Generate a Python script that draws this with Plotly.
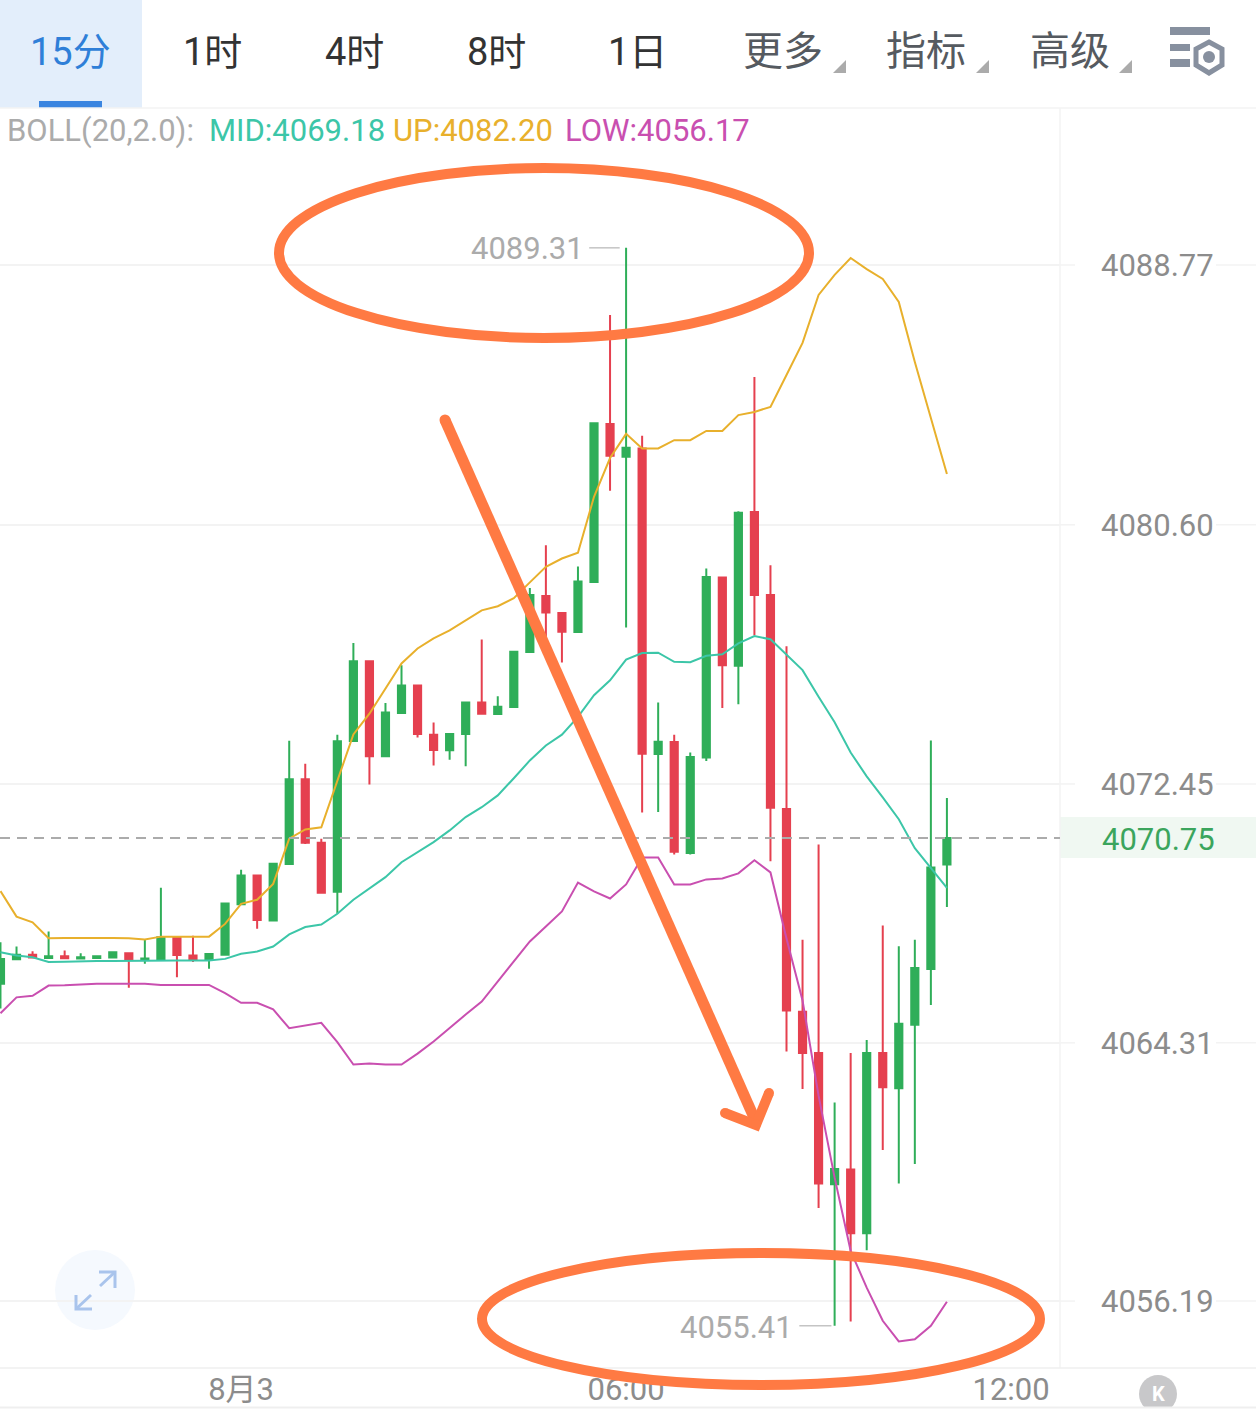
import plotly.graph_objects as go

FONT = "Roboto, 'Noto Sans CJK SC', sans-serif"
W, H = 1256, 1420

open_ = [4066.17,4066.94,4067.08,4066.98,4067.03,4066.96,4066.98,4066.99,4067.13,4066.92,
         4066.93,4067.61,4067.06,4066.94,4067.08,4068.67,4069.57,4068.16,4069.93,4072.60,
         4070.60,4069.06,4073.80,4076.31,4073.32,4074.68,4075.55,4074.00,4073.51,4074.02,
         4075.01,4074.65,4074.87,4076.60,4078.36,4077.83,4077.23,4078.80,4083.77,4082.74,
         4083.00,4073.39,4073.77,4070.28,4073.28,4078.94,4076.17,4081.00,4078.39,4071.66,
         4065.29,4063.99,4059.86,4060.33,4058.32,4063.99,4062.88,4064.88,4066.63,4069.92]
high = [4067.47,4067.34,4067.19,4067.81,4067.21,4067.13,4067.03,4067.16,4067.13,4067.56,
        4069.19,4067.63,4067.68,4067.10,4068.69,4069.75,4069.57,4069.94,4073.81,4073.09,
        4070.73,4074.00,4076.88,4076.31,4075.00,4076.18,4075.55,4074.38,4074.02,4075.01,
        4076.99,4075.21,4076.61,4078.61,4079.96,4077.83,4079.29,4083.79,4087.20,4089.31,
        4083.40,4075.01,4074.00,4073.44,4079.23,4078.94,4081.03,4085.25,4079.33,4076.78,
        4067.55,4070.55,4062.43,4063.99,4064.40,4068.00,4067.35,4067.55,4073.82,4072.01]
low = [4065.39,4066.94,4066.99,4066.98,4066.97,4066.96,4066.98,4066.99,4066.04,4066.80,
       4066.93,4066.37,4066.85,4066.64,4067.08,4068.67,4067.90,4068.16,4069.93,4070.56,
       4069.03,4068.37,4073.80,4072.43,4073.32,4074.68,4073.91,4073.03,4073.21,4073.01,
       4074.66,4074.65,4074.87,4076.60,4076.59,4076.27,4077.23,4078.80,4081.67,4077.37,
       4071.55,4071.57,4070.23,4070.23,4073.17,4074.84,4074.96,4077.13,4070.02,4064.04,
       4062.86,4059.12,4055.41,4055.55,4057.79,4060.94,4059.89,4060.50,4065.50,4068.58]
close = [4066.95,4067.08,4066.99,4067.03,4066.97,4067.00,4067.03,4067.16,4066.92,4066.96,
         4067.63,4067.07,4066.95,4067.10,4068.69,4069.57,4068.17,4069.94,4072.60,4070.60,
         4069.03,4073.79,4076.31,4073.32,4074.70,4075.55,4074.02,4073.52,4074.02,4075.01,
         4074.66,4074.88,4076.61,4078.39,4077.84,4077.24,4078.82,4083.79,4082.77,4083.02,
         4073.40,4073.78,4070.32,4073.30,4078.96,4076.18,4080.98,4078.39,4071.70,4065.33,
         4063.99,4059.89,4060.34,4058.32,4063.99,4062.91,4064.91,4066.66,4069.82,4070.75]

boll_up = [4069.08,4068.28,4068.10,4067.60,4067.61,4067.62,4067.61,4067.61,4067.60,4067.56,
           4067.65,4067.65,4067.65,4067.65,4068.05,4068.68,4068.81,4069.31,4070.73,4071.02,
           4071.09,4072.56,4074.01,4074.66,4075.43,4076.24,4076.71,4077.03,4077.28,4077.60,
           4077.91,4078.04,4078.29,4078.79,4079.28,4079.54,4079.72,4081.48,4082.70,4083.46,
           4083.00,4083.00,4083.26,4083.26,4083.55,4083.55,4084.05,4084.15,4084.31,4085.31,
           4086.32,4087.83,4088.46,4088.99,4088.64,4088.33,4087.61,4085.72,4083.96,4082.20]
boll_mid = [4067.16,4067.06,4067.00,4066.85,4066.86,4066.88,4066.88,4066.88,4066.89,4066.90,
            4066.90,4066.90,4066.90,4066.90,4066.95,4067.11,4067.18,4067.34,4067.72,4067.95,
            4068.03,4068.37,4068.81,4069.16,4069.52,4069.99,4070.31,4070.62,4070.99,4071.41,
            4071.72,4072.09,4072.63,4073.19,4073.66,4074.00,4074.56,4075.24,4075.71,4076.36,
            4076.57,4076.58,4076.29,4076.28,4076.48,4076.53,4076.87,4077.10,4077.00,4076.50,
            4076.03,4075.19,4074.39,4073.44,4072.69,4072.03,4071.34,4070.43,4069.82,4069.18]
boll_low = [4065.24,4065.74,4065.79,4066.11,4066.12,4066.15,4066.17,4066.17,4066.17,4066.17,
            4066.13,4066.13,4066.13,4066.13,4065.87,4065.57,4065.57,4065.36,4064.77,4064.85,
            4064.94,4064.33,4063.63,4063.66,4063.63,4063.63,4063.97,4064.35,4064.79,4065.20,
            4065.61,4066.24,4066.90,4067.50,4067.97,4068.44,4069.35,4069.07,4068.85,4069.29,
            4070.14,4070.14,4069.29,4069.29,4069.45,4069.48,4069.64,4070.05,4069.67,4067.59,
            4065.64,4062.65,4060.07,4057.77,4056.61,4055.57,4054.92,4054.99,4055.41,4056.17]

price_ticks = [4088.77, 4080.60, 4072.45, 4064.31, 4056.19]
time_tick_index = [15, 39, 63]
time_tick_labels = ["8月3", "06:00", "12:00"]
tabs = ["15分", "1时", "4时", "8时", "1日", "更多", "指标", "高级"]
last_price = 4070.75
max_price = 4089.31
min_price = 4055.41

assert all(len(a) == 60 for a in (open_, high, low, close, boll_up, boll_mid, boll_low))
idx = list(range(60))

GREEN, RED = "#2FAE59", "#E5404F"
TEAL, YELLOW, MAGENTA = "#3CC6A8", "#E8B02C", "#C94FB0"
ORANGE = "#FF7A43"
GRID = "#F3F3F3"
PLOT_R = 1060


def px(x):
    return x / W


def py(y):
    return 1 - y / H


def pline(x0, y0, x1, y1, color, width, **kw):
    return dict(type="line", xref="paper", yref="paper", x0=px(x0), y0=py(y0), x1=px(x1), y1=py(y1),
                line=dict(color=color, width=width), **kw)


def prect(x0, y0, x1, y1, color, layer="below"):
    return dict(type="rect", xref="paper", yref="paper", x0=px(x0), y0=py(y0), x1=px(x1), y1=py(y1),
                fillcolor=color, line=dict(width=0), layer=layer)


def pellipse(cx, cy, rx, ry, fill=None, line=None, width=0, layer="above"):
    return dict(type="circle", xref="paper", yref="paper", x0=px(cx - rx), y0=py(cy - ry),
                x1=px(cx + rx), y1=py(cy + ry), fillcolor=fill or "rgba(0,0,0,0)",
                line=dict(color=line or "rgba(0,0,0,0)", width=width), layer=layer)


def ppath(points, color, width=0, fill=None, closed=False, layer="above"):
    d = "M " + " L ".join(f"{px(x):.5f},{py(y):.5f}" for x, y in points) + (" Z" if closed else "")
    return dict(type="path", xref="paper", yref="paper", path=d, fillcolor=fill or "rgba(0,0,0,0)",
                line=dict(color=color, width=width), layer=layer)


def ptext(x, y, text, color, size=31, anchor="center"):
    return dict(xref="paper", yref="paper", x=px(x), y=py(y), text=text, showarrow=False,
                xanchor=anchor, yanchor="middle", font=dict(family=FONT, size=size, color=color))


fig = go.Figure()
fig.add_trace(go.Candlestick(
    x=idx, open=open_, high=high, low=low, close=close,
    increasing=dict(line=dict(color=GREEN, width=2), fillcolor=GREEN),
    decreasing=dict(line=dict(color=RED, width=2), fillcolor=RED),
    whiskerwidth=0, hoverinfo="skip"))
for series, color, width in ((boll_up, YELLOW, 2), (boll_mid, TEAL, 2), (boll_low, MAGENTA, 2)):
    fig.add_trace(go.Scatter(x=idx, y=series, mode="lines", line=dict(color=color, width=width),
                             hoverinfo="skip"))

shapes = [
    prect(0, 0, 142, 108, "#E3EEFB"),
    prect(39, 101, 102, 108, "#3A85E0"),
    prect(PLOT_R, 817, W, 858, "#F0F8F2"),
    pline(0, 108, W, 108, GRID, 1.5, layer="below"),
    pline(PLOT_R, 108, PLOT_R, 1368, GRID, 1.5, layer="below"),
    pline(0, 1368, W, 1368, "#EFEFEF", 1.5, layer="below"),
    pellipse(95, 1290, 40, 40, fill="#F5F9FE", layer="below"),
]
for tick in price_ticks:
    for a, b in ((PLOT_R, 1075), (1216, W)):
        shapes.append(dict(type="line", xref="paper", yref="y", x0=px(a), x1=px(b), y0=tick, y1=tick,
                           line=dict(color=GRID, width=1.5), layer="below"))
shapes.append(dict(type="line", xref="paper", yref="y", x0=0, x1=px(PLOT_R), y0=last_price, y1=last_price,
                   line=dict(color="#ABABAB", width=2, dash="10px,7px"), layer="above"))
shapes.append(dict(type="line", xref="x", yref="y", x0=36.7, x1=38.6, y0=max_price, y1=max_price,
                   line=dict(color="#C4C4C4", width=1.5)))
shapes.append(dict(type="line", xref="x", yref="y", x0=49.8, x1=51.8, y0=min_price, y1=min_price,
                   line=dict(color="#C4C4C4", width=1.5)))

# toolbar glyphs
for tx in (846, 989, 1132):
    shapes.append(ppath([(tx, 60), (tx, 73), (tx - 13, 73)], "#ABABAB", fill="#ABABAB", closed=True))
ICON = "#87909F"
shapes += [prect(1170, 27, 1210, 35, ICON, "above"), prect(1170, 44, 1190, 51, ICON, "above"),
           prect(1170, 59, 1190, 67, ICON, "above")]
shapes.append(ppath([(1209, 42), (1222, 49), (1222, 65), (1209, 73), (1196, 65), (1196, 49)],
                    ICON, width=5, closed=True))
shapes.append(pellipse(1209, 57, 6, 6, fill=ICON))

# expand button
EXP = "#A9C4EC"
shapes += [ppath([(99, 1272), (115, 1272), (115, 1288)], EXP, width=3),
           pline(115, 1272, 100, 1286, EXP, 3),
           ppath([(76, 1295), (76, 1309), (92, 1309)], EXP, width=3),
           pline(76, 1309, 91, 1295, EXP, 3)]

# K button and bottom strip
shapes.append(pellipse(1158, 1394, 19, 19, fill="#C8C8CA"))
shapes.append(prect(0, 1408, W, H, "#FFFFFF", "above"))
shapes.append(pline(0, 1407.5, W, 1407.5, "#EFEFEF", 2))

# hand-drawn orange marks
shapes += [
    pellipse(544, 253, 265, 85, line=ORANGE, width=10),
    pellipse(761, 1319, 279, 66, line=ORANGE, width=10),
    ppath([(445, 420), (756, 1122)], ORANGE, width=11),
    ppath([(725, 1113), (756, 1125), (769, 1093)], ORANGE, width=10),
    pellipse(445, 420, 5.5, 5.5, fill=ORANGE),
    pellipse(725, 1113, 5, 5, fill=ORANGE),
    pellipse(769, 1093, 5, 5, fill=ORANGE),
    pellipse(756, 1124, 5, 5, fill=ORANGE),
]

tab_x = [70, 212, 354, 496, 637, 783, 926, 1070]
tab_sizes = [38, 38, 38, 38, 38, 40, 40, 40]
tab_colors = ["#2F7FD8"] + ["#333333"] * 4 + ["#555A60"] * 3
annotations = [ptext(x, 52, t, c, size=s) for x, t, c, s in zip(tab_x, tabs, tab_colors, tab_sizes)]
annotations += [
    ptext(5, 131, "BOLL(20,2.0):", "#ABABAB", anchor="left"),
    ptext(207, 131, "MID:4069.18", TEAL, anchor="left"),
    ptext(391, 131, "UP:4082.20", YELLOW, anchor="left"),
    ptext(563, 131, "LOW:4056.17", MAGENTA, anchor="left"),
    ptext(1158, 839, f"{last_price:.2f}", "#3BA55D"),
    ptext(1158, 1394, "<b>K</b>", "#FFFFFF", size=20),
    dict(xref="x", yref="y", x=39, y=max_price, xshift=-40, yshift=-1, text=f"{max_price:.2f}", showarrow=False,
         xanchor="right", yanchor="middle", font=dict(family=FONT, size=31, color="#ABABAB")),
    dict(xref="x", yref="y", x=52, y=min_price, xshift=-40, yshift=-2, text=f"{min_price:.2f}", showarrow=False,
         xanchor="right", yanchor="middle", font=dict(family=FONT, size=31, color="#ABABAB")),
]

fig.update_layout(
    width=W, height=H, margin=dict(l=0, r=0, t=0, b=0), autosize=False,
    paper_bgcolor="white", plot_bgcolor="white", showlegend=False, boxgap=0.36,
    shapes=shapes, annotations=annotations,
    xaxis=dict(domain=[0, PLOT_R / W], range=[-0.03, 66.05], rangeslider=dict(visible=False),
               tickmode="array", tickvals=time_tick_index, ticktext=time_tick_labels,
               showgrid=False, zeroline=False, showline=False, ticks="",
               tickfont=dict(family=FONT, size=31, color="#8C8C8C"), anchor="y"),
    yaxis=dict(domain=[1 - 1368 / H, 1 - 108 / H], range=[4054.085, 4093.707], side="right",
               tickmode="array", tickvals=price_ticks, ticktext=[f"{t:.2f}" for t in price_ticks],
               showgrid=True, gridcolor=GRID, gridwidth=1.5, zeroline=False, showline=False, ticks="",
               ticklabelstandoff=40,
               tickfont=dict(family=FONT, size=31, color="#8C8C8C"), anchor="x"),
)

fig.write_html("out.html", config={"displayModeBar": False},
               post_script="document.body.style.margin='0';document.documentElement.style.overflow='hidden';")
